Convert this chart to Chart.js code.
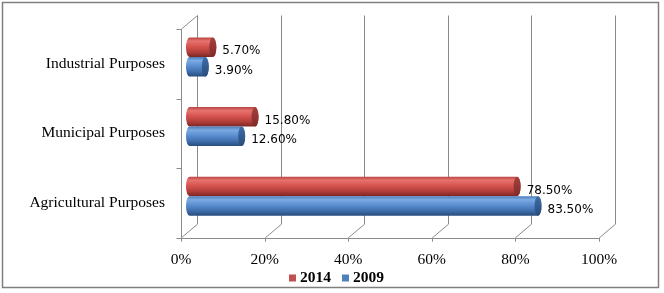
<!DOCTYPE html>
<html>
<head>
<meta charset="utf-8">
<script src="https://cdn.jsdelivr.net/npm/chart.js@4.4.1/dist/chart.umd.min.js"></script>
<style>
  html, body { margin: 0; padding: 0; background: #fff; }
  #wrap { width: 664px; height: 293px; position: relative; }
</style>
</head>
<body>
<div id="wrap"><canvas id="usageChart"></canvas></div>
<script>
// グラフのデータ
const categories = ["Industrial Purposes", "Municipal Purposes", "Agricultural Purposes"];
const seriesNames = ["2014", "2009"];
const values2014 = [5.7, 15.8, 78.5];
const values2009 = [3.9, 12.6, 83.5];
const xTicks = [0, 20, 40, 60, 80, 100];

// 色設定
const seriesColors = ["#C0504D", "#4F81BD"];
const cylinderShades = [
  { edge: "#B94542", light: "#E6736F", mid: "#D75450", low: "#B13E3A", dark: "#7A2624", cap: "#A7403D", capDark: "#7E2B29" },
  { edge: "#4A7CBA", light: "#7CAAE2", mid: "#5B8FD1", low: "#3F6EAC", dark: "#284C7C", cap: "#3E6DA8", capDark: "#2A4C7A" },
];
const gridColor = "#8A8A8A";
const serifFont = "'Liberation Serif', 'Times New Roman', serif";
const DEPTH_X = 16;
const DEPTH_Y = -13.5;

// 円柱を描く関数
function drawCylinder(ctx, x0, x1, yc, h, shade) {
  const rx = 3.5;
  const ry = h / 2;
  const grad = ctx.createLinearGradient(0, yc - ry, 0, yc + ry);
  grad.addColorStop(0, shade.edge);
  grad.addColorStop(0.18, shade.light);
  grad.addColorStop(0.45, shade.mid);
  grad.addColorStop(0.75, shade.low);
  grad.addColorStop(1, shade.dark);

  ctx.save();
  ctx.beginPath();
  ctx.moveTo(x0, yc - ry);
  ctx.lineTo(x1, yc - ry);
  ctx.ellipse(x1, yc, rx, ry, 0, -Math.PI / 2, Math.PI / 2);
  ctx.lineTo(x0, yc + ry);
  ctx.ellipse(x0, yc, rx, ry, 0, Math.PI / 2, Math.PI * 1.5);
  ctx.closePath();
  ctx.fillStyle = grad;
  ctx.fill();

  // 右端のふた
  const capGrad = ctx.createLinearGradient(0, yc - ry, 0, yc + ry);
  capGrad.addColorStop(0, shade.cap);
  capGrad.addColorStop(1, shade.capDark);
  ctx.beginPath();
  ctx.ellipse(x1, yc, rx, ry, 0, 0, Math.PI * 2);
  ctx.fillStyle = capGrad;
  ctx.fill();
  ctx.restore();
}

// 凡例を描く関数（下中央）
function drawLegend(chart) {
  const ctx = chart.ctx;
  ctx.save();
  ctx.font = "bold 15.5px " + serifFont;
  ctx.textBaseline = "middle";
  ctx.textAlign = "left";
  const box = 7;
  const gap = 4;
  const itemGap = 11;
  const items = chart.data.datasets.map((ds) => ({
    label: ds.label,
    color: ds.backgroundColor,
    width: box + gap + ctx.measureText(ds.label).width,
  }));
  const total = items.reduce((s, it) => s + it.width, 0) + itemGap * (items.length - 1);
  let x = 336.5 - total / 2;
  const y = 278;
  items.forEach((it) => {
    ctx.fillStyle = it.color;
    ctx.fillRect(x, y - box / 2, box, box);
    ctx.fillStyle = "#000";
    ctx.fillText(it.label, x + box + gap, y);
    x += it.width + itemGap;
  });
  ctx.restore();
}

// 3Dの枠線（壁・床・軸）を描くプラグイン
const frame3dPlugin = {
  id: "frame3d",
  beforeDatasetsDraw(chart) {
    const ctx = chart.ctx;
    const xScale = chart.scales.x;
    const area = chart.chartArea;
    const band = (area.bottom - area.top) / categories.length;

    ctx.save();
    ctx.strokeStyle = gridColor;
    ctx.lineWidth = 1;
    ctx.beginPath();
    xTicks.forEach((t) => {
      const x = Math.round(xScale.getPixelForValue(t)) + 0.5;
      // 奥の縦線
      ctx.moveTo(x + DEPTH_X, area.top + DEPTH_Y);
      ctx.lineTo(x + DEPTH_X, area.bottom + DEPTH_Y);
      // 床の斜め線
      ctx.moveTo(x, area.bottom);
      ctx.lineTo(x + DEPTH_X, area.bottom + DEPTH_Y);
      // 目盛り
      ctx.moveTo(x, area.bottom);
      ctx.lineTo(x, area.bottom + 4);
    });
    const left = Math.round(area.left) + 0.5;
    // 左の壁
    ctx.moveTo(left, area.top);
    ctx.lineTo(left + DEPTH_X, area.top + DEPTH_Y);
    ctx.moveTo(left, area.top);
    ctx.lineTo(left, area.bottom);
    // 前の横軸
    ctx.moveTo(left, Math.round(area.bottom) + 0.5);
    ctx.lineTo(xScale.getPixelForValue(100), Math.round(area.bottom) + 0.5);
    for (let i = 0; i <= categories.length; i++) {
      const y = Math.round(area.top + band * i) + 0.5;
      ctx.moveTo(left - 5, y);
      ctx.lineTo(left, y);
    }
    ctx.stroke();
    ctx.restore();
  },
  // 標準の棒は描かず、円柱で描く
  beforeDatasetDraw() {
    return false;
  },
  afterDatasetsDraw(chart) {
    const ctx = chart.ctx;
    chart.data.datasets.forEach((dataset, dsIdx) => {
      const meta = chart.getDatasetMeta(dsIdx);
      meta.data.forEach((bar, i) => {
        const x0 = bar.base + DEPTH_X / 2;
        const x1 = bar.x + DEPTH_X / 2;
        const yc = bar.y + DEPTH_Y / 2;
        drawCylinder(ctx, x0, x1, yc, bar.height, cylinderShades[dsIdx]);

        // 値ラベル
        ctx.save();
        ctx.font = "12px 'DejaVu Sans'";
        ctx.fillStyle = "#000";
        ctx.textAlign = "left";
        ctx.textBaseline = "middle";
        ctx.fillText(dataset.data[i].toFixed(2) + "%", x1 + 9.5, yc + 4);
        ctx.restore();
      });
    });
  },
  afterDraw(chart) {
    drawLegend(chart);
    // 外枠
    const ctx = chart.ctx;
    ctx.save();
    ctx.strokeStyle = "#7F7F7F";
    ctx.lineWidth = 1.5;
    ctx.strokeRect(2.5, 2.5, 656, 285);
    ctx.restore();
  },
};

document.addEventListener("DOMContentLoaded", () => {
  Chart.defaults.font.family = serifFont;
  Chart.defaults.color = "#000";

  const ctx = document.getElementById("usageChart").getContext("2d");
  window.usageChart = new Chart(ctx, {
    type: "bar",
    data: {
      labels: categories,
      datasets: [
        { label: seriesNames[0], data: values2014, backgroundColor: seriesColors[0], borderWidth: 0 },
        { label: seriesNames[1], data: values2009, backgroundColor: seriesColors[1], borderWidth: 0 },
      ],
    },
    options: {
      indexAxis: "y",
      responsive: true,
      maintainAspectRatio: false,
      animation: false,
      layout: {
        padding: { left: 0, right: 65, top: 29, bottom: 0 },
      },
      datasets: {
        bar: { categoryPercentage: 0.56, barPercentage: 1.0 },
      },
      scales: {
        x: {
          min: 0,
          max: 100,
          ticks: {
            stepSize: 20,
            padding: 8,
            font: { size: 15.5 },
            callback: (v) => v + "%",
          },
          grid: { display: true, drawOnChartArea: false, color: "transparent", tickLength: 5 },
          border: { display: false },
          afterFit: (scale) => {
            scale.height = 293 - 237.7;
          },
        },
        y: {
          ticks: {
            padding: 11,
            font: { size: 15.5 },
          },
          grid: { display: true, drawOnChartArea: false, color: "transparent", tickLength: 5 },
          border: { display: false },
          afterFit: (scale) => {
            scale.width = 181;
          },
        },
      },
      plugins: {
        legend: { display: false },
        tooltip: { enabled: false },
      },
    },
    plugins: [frame3dPlugin],
  });
});
</script>
</body>
</html>
